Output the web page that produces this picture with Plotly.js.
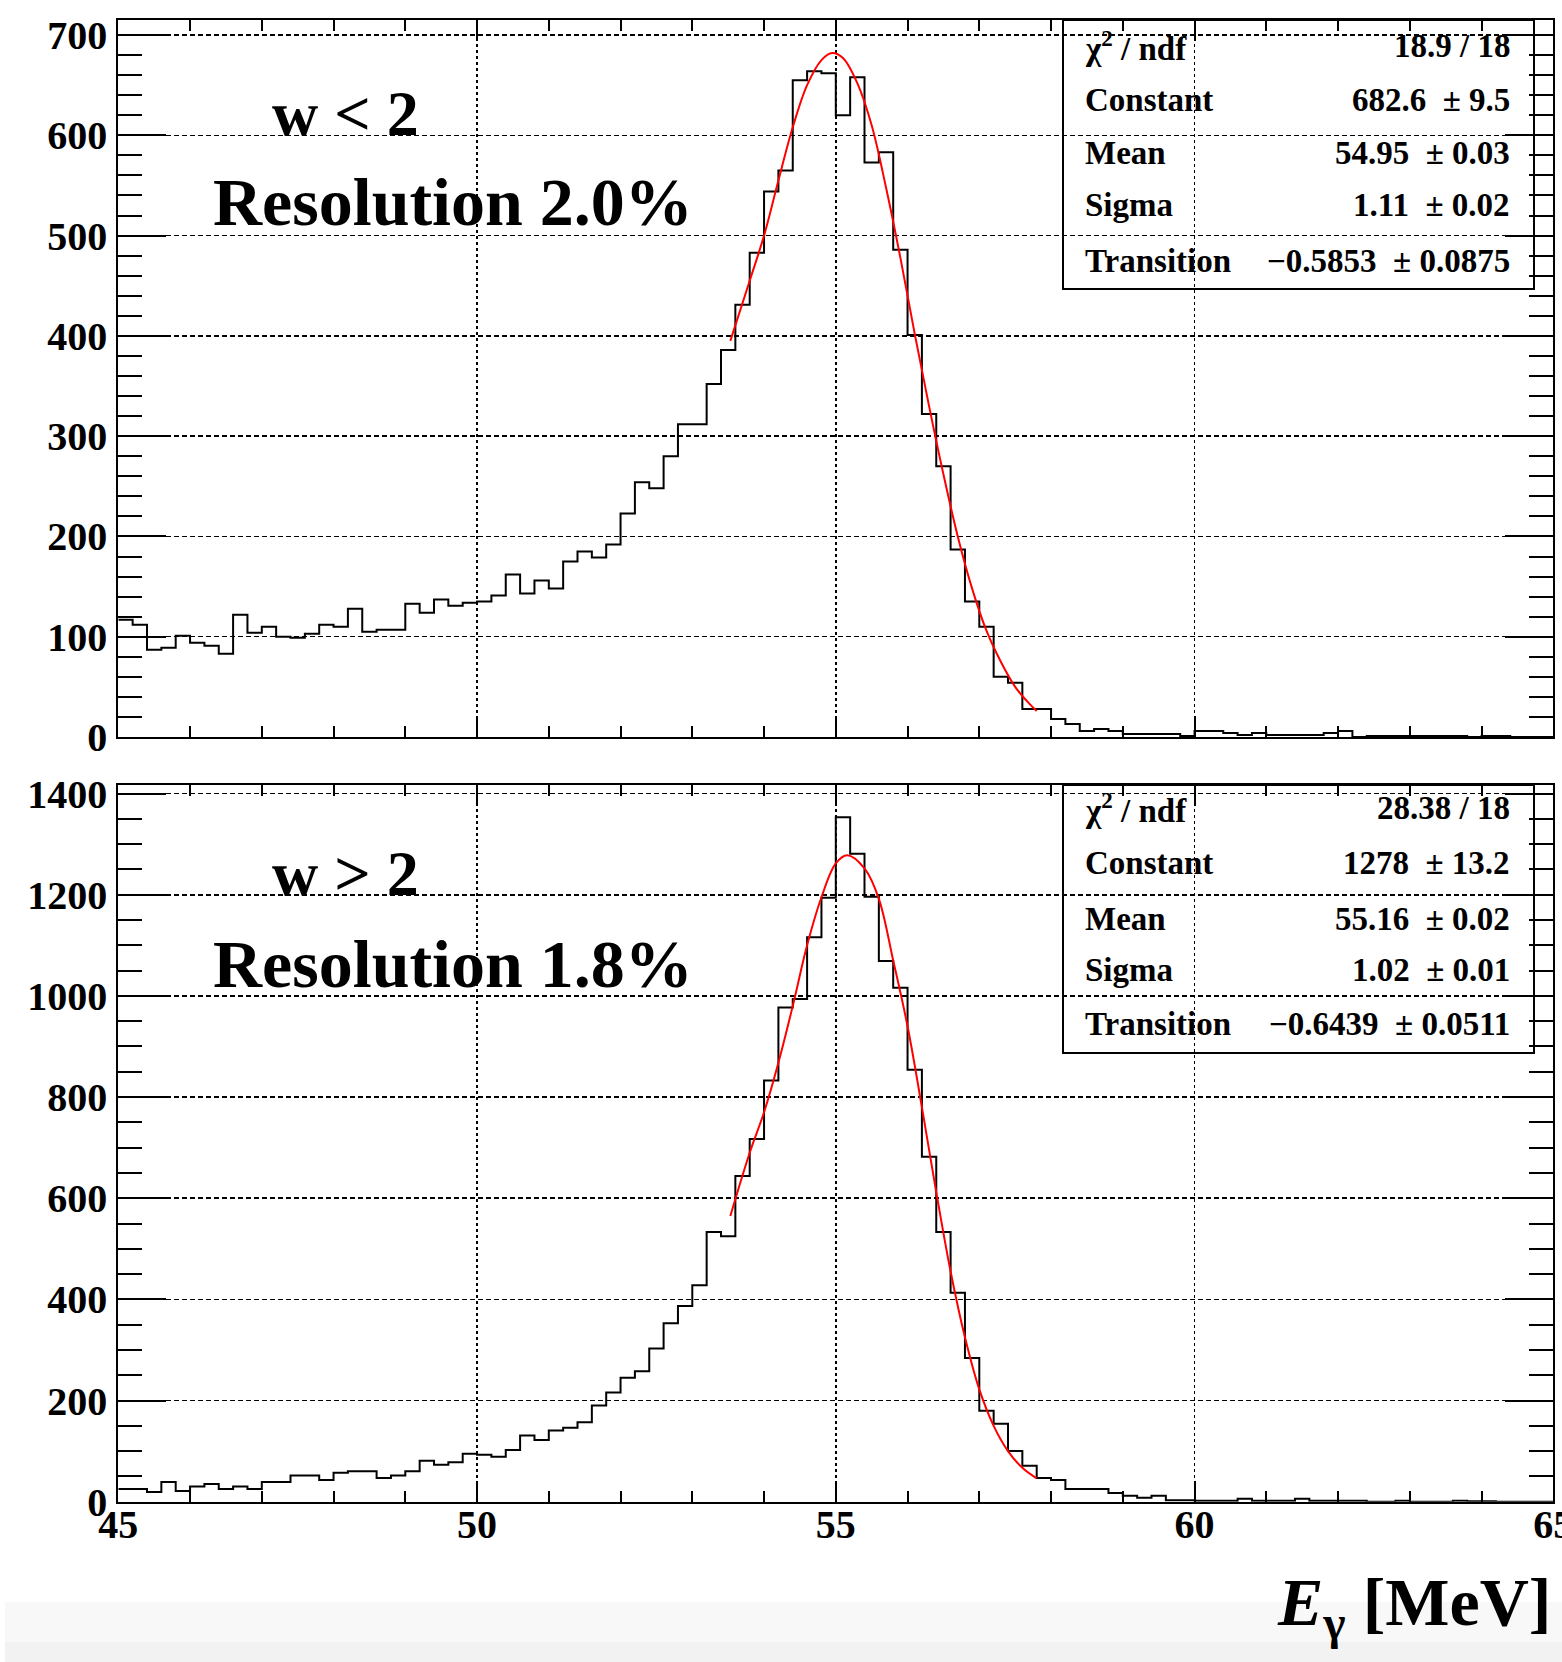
<!DOCTYPE html>
<html>
<head>
<meta charset="utf-8">
<script src="https://cdn.plot.ly/plotly-3.0.1.min.js"></script>
<style>
html,body{margin:0;padding:0;background:#ffffff;}
#chart{width:1562px;height:1662px;}
</style>
</head>
<body>
<div id="chart"></div>
<script>
// ---------------- DATA ----------------
// Histogram binning: 100 bins of 0.2 MeV between 45 and 65 MeV
const binLow = 45;
const binHigh = 65;
const nBins = 100;

// Counts per bin, panel "w < 2"
const countsLowW = [
  117, 112, 87, 89, 101, 94, 91, 83, 122, 104,
  110, 100, 99, 103, 112, 110, 128, 105, 107, 107,
  133, 124, 137, 131, 134, 135, 141, 162, 143, 156,
  148, 175, 185, 179, 192, 223, 254, 248, 280, 312,
  312, 352, 386, 431, 483, 544, 565, 655, 664, 662,
  620, 658, 573, 583, 486, 401, 322, 270, 187, 135,
  110, 60, 54, 28, 28, 18, 13, 6, 8, 6,
  3, 3, 3, 3, 1, 6, 6, 4, 2, 4,
  2, 2, 2, 2, 4, 6, 0, 1, 1, 1,
  1, 1, 1, 1, 0, 1, 1, 0, 0, 0
];

// Counts per bin, panel "w > 2"
const countsHighW = [
  25, 25, 19, 39, 21, 30, 35, 25, 30, 25,
  39, 39, 52, 52, 43, 57, 60, 60, 47, 52,
  60, 81, 73, 78, 95, 93, 89, 102, 131, 122,
  141, 146, 157, 190, 216, 245, 258, 303, 353, 387,
  428, 533, 525, 644, 717, 833, 977, 994, 1116, 1194,
  1353, 1281, 1196, 1069, 1016, 854, 682, 533, 413, 284,
  180, 154, 100, 71, 47, 43, 25, 25, 25, 17,
  12, 8, 12, 3, 3, 2, 2, 2, 6, 2,
  2, 2, 6, 2, 2, 2, 2, 0, 0, 2,
  0, 0, 0, 2, 1, 1, 0, 0, 0, 0
];

// Fitted curve (red)
const fitLowE = [53.53, 53.8, 54.0, 54.2, 54.4, 54.6, 54.8, 54.95, 55.1, 55.3, 55.5, 55.7, 55.9, 56.1, 56.3, 56.5, 56.7, 56.9, 57.1, 57.3, 57.5, 57.7, 57.8];
const fitLowY = [395, 455, 500, 555, 608, 650, 675, 682, 677, 652, 610, 548, 478, 402, 330, 262, 200, 148, 106, 75, 50, 33, 26];

const fitHighE = [53.53, 53.8, 54.0, 54.2, 54.4, 54.6, 54.8, 55.0, 55.16, 55.4, 55.6, 55.8, 56.0, 56.2, 56.4, 56.6, 56.8, 57.0, 57.2, 57.4, 57.6, 57.8];
const fitHighY = [565, 690, 770, 868, 980, 1100, 1195, 1262, 1278, 1252, 1192, 1070, 940, 780, 612, 455, 325, 222, 150, 100, 67, 46];

// Panel labels
const panelLabels = ["w &lt; 2", "w &gt; 2"];
const resolutionLabels = ["Resolution 2.0%", "Resolution 1.8%"];

// Fit statistics boxes
const statNames = ["\u03c7<sup>2</sup> / ndf", "Constant", "Mean", "Sigma", "Transition"];
const statsLowW = ["18.9 / 18", "682.6 \u00a0\u00b1 9.5", "54.95 \u00a0\u00b1 0.03", "1.11 \u00a0\u00b1 0.02", "\u22120.5853 \u00a0\u00b1 0.0875"];
const statsHighW = ["28.38 / 18", "1278 \u00a0\u00b1 13.2", "55.16 \u00a0\u00b1 0.02", "1.02 \u00a0\u00b1 0.01", "\u22120.6439 \u00a0\u00b1 0.0511"];

const xTitle = "<i>E</i><sub>\u03b3</sub> [MeV]";

// ---------------- BUILD ----------------
const W = 1562, H = 1662;
const px = v => v / W;
const py = v => 1 - v / H;

const edges = Array.from({length: nBins + 1}, (_, i) => binLow + i * (binHigh - binLow) / nBins);
function stepY(counts) { return counts.concat([counts[counts.length - 1]]); }

const serif = "Liberation Serif, Times New Roman, serif";

const traces = [
  {x: edges, y: stepY(countsLowW), xaxis: 'x', yaxis: 'y', type: 'scatter', mode: 'lines',
   line: {shape: 'hv', color: '#000000', width: 2}, hoverinfo: 'skip'},
  {x: fitLowE, y: fitLowY, xaxis: 'x', yaxis: 'y', type: 'scatter', mode: 'lines',
   line: {shape: 'spline', color: '#ff0000', width: 2}, hoverinfo: 'skip'},
  {x: edges, y: stepY(countsHighW), xaxis: 'x2', yaxis: 'y2', type: 'scatter', mode: 'lines',
   line: {shape: 'hv', color: '#000000', width: 2}, hoverinfo: 'skip'},
  {x: fitHighE, y: fitHighY, xaxis: 'x2', yaxis: 'y2', type: 'scatter', mode: 'lines',
   line: {shape: 'spline', color: '#ff0000', width: 2}, hoverinfo: 'skip'}
];

const xDomain = [px(118.3), px(1553.3)];

function xAxis(anchor, showLabels) {
  return {
    domain: xDomain, anchor: anchor, range: [binLow, binHigh],
    tick0: 45, dtick: 5, ticks: 'inside', ticklen: 21, tickwidth: 2, tickcolor: '#000',
    minor: {dtick: 1, ticks: 'inside', ticklen: 11, tickwidth: 2, tickcolor: '#000', showgrid: false},
    showgrid: true, gridcolor: '#000', gridwidth: 1.5, griddash: '3px,3px',
    showline: true, linecolor: '#000', linewidth: 2, mirror: 'allticks',
    zeroline: false, showticklabels: showLabels,
    tickfont: {family: serif, size: 40, color: '#000', weight: 'bold'},
    ticklabelstandoff: -14,
    ticklabeloverflow: 'allow'
  };
}
function yAxis(anchor, domain, range, dtick, minorDtick) {
  return {
    domain: domain, anchor: anchor, range: range,
    tick0: 0, dtick: dtick, ticks: 'inside', ticklen: 48, tickwidth: 2, tickcolor: '#000',
    minor: {dtick: minorDtick, ticks: 'inside', ticklen: 24, tickwidth: 2, tickcolor: '#000', showgrid: false},
    showgrid: true, gridcolor: '#000', gridwidth: 1.5, griddash: '5px,3px',
    showline: true, linecolor: '#000', linewidth: 2, mirror: 'allticks',
    zeroline: false,
    tickfont: {family: serif, size: 40, color: '#000', weight: 'bold'},
    ticklabelstandoff: 1,
    ticklabeloverflow: 'allow'
  };
}

const annotations = [];
function addText(text, x, y, size, anchor) {
  annotations.push({text: text, xref: 'paper', yref: 'paper', x: x, y: y,
    xanchor: anchor, yanchor: 'middle', showarrow: false,
    font: {family: serif, size: size, color: '#000', weight: 'bold'}});
}
// panel labels
addText(panelLabels[0], px(270), py(113), 64, 'left');
addText(resolutionLabels[0], px(211), py(202), 68, 'left');
addText(panelLabels[1], px(270), py(873), 64, 'left');
addText(resolutionLabels[1], px(211), py(964), 68, 'left');

// stats boxes
const rowsLow = [46, 100, 153, 205, 261];
const rowsHigh = [808, 863, 919, 970, 1024];
statNames.forEach((nm, i) => {
  addText(nm, px(1083), py(rowsLow[i]), 33, 'left');
  addText(statsLowW[i], px(1512), py(rowsLow[i]), 33, 'right');
  addText(nm, px(1083), py(rowsHigh[i]), 33, 'left');
  addText(statsHighW[i], px(1512), py(rowsHigh[i]), 33, 'right');
});

// axis title
addText(xTitle, px(1553), py(1606), 68, 'right');

const shapes = [
  {type: 'rect', xref: 'paper', yref: 'paper', x0: px(5), x1: 1, y0: 0, y1: py(1602), layer: 'below',
   fillcolor: '#f8f8f8', line: {width: 0}},
  {type: 'rect', xref: 'paper', yref: 'paper', x0: px(5), x1: 1, y0: 0, y1: py(1642), layer: 'below',
   fillcolor: '#f2f2f2', line: {width: 0}},
  {type: 'rect', xref: 'paper', yref: 'paper', x0: px(1063), x1: px(1534), y0: py(289), y1: py(20),
   line: {color: '#000', width: 2}, fillcolor: 'rgba(0,0,0,0)'},
  {type: 'rect', xref: 'paper', yref: 'paper', x0: px(1063), x1: px(1534), y0: py(1053), y1: py(785),
   line: {color: '#000', width: 2}, fillcolor: 'rgba(0,0,0,0)'}
];

const layout = {
  width: W, height: H,
  margin: {l: 0, r: 0, t: 0, b: 0, pad: 0},
  paper_bgcolor: '#ffffff', plot_bgcolor: 'rgba(0,0,0,0)',
  showlegend: false,
  xaxis: xAxis('y', false),
  yaxis: yAxis('x', [py(737), py(20)], [0, 715], 100, 20),
  xaxis2: xAxis('y2', true),
  yaxis2: yAxis('x2', [py(1501.7), py(785)], [0, 1417], 200, 50),
  annotations: annotations,
  shapes: shapes,
  font: {family: serif, color: '#000'}
};

Plotly.newPlot('chart', traces, layout, {displayModeBar: false, staticPlot: true});
</script>
</body>
</html>
